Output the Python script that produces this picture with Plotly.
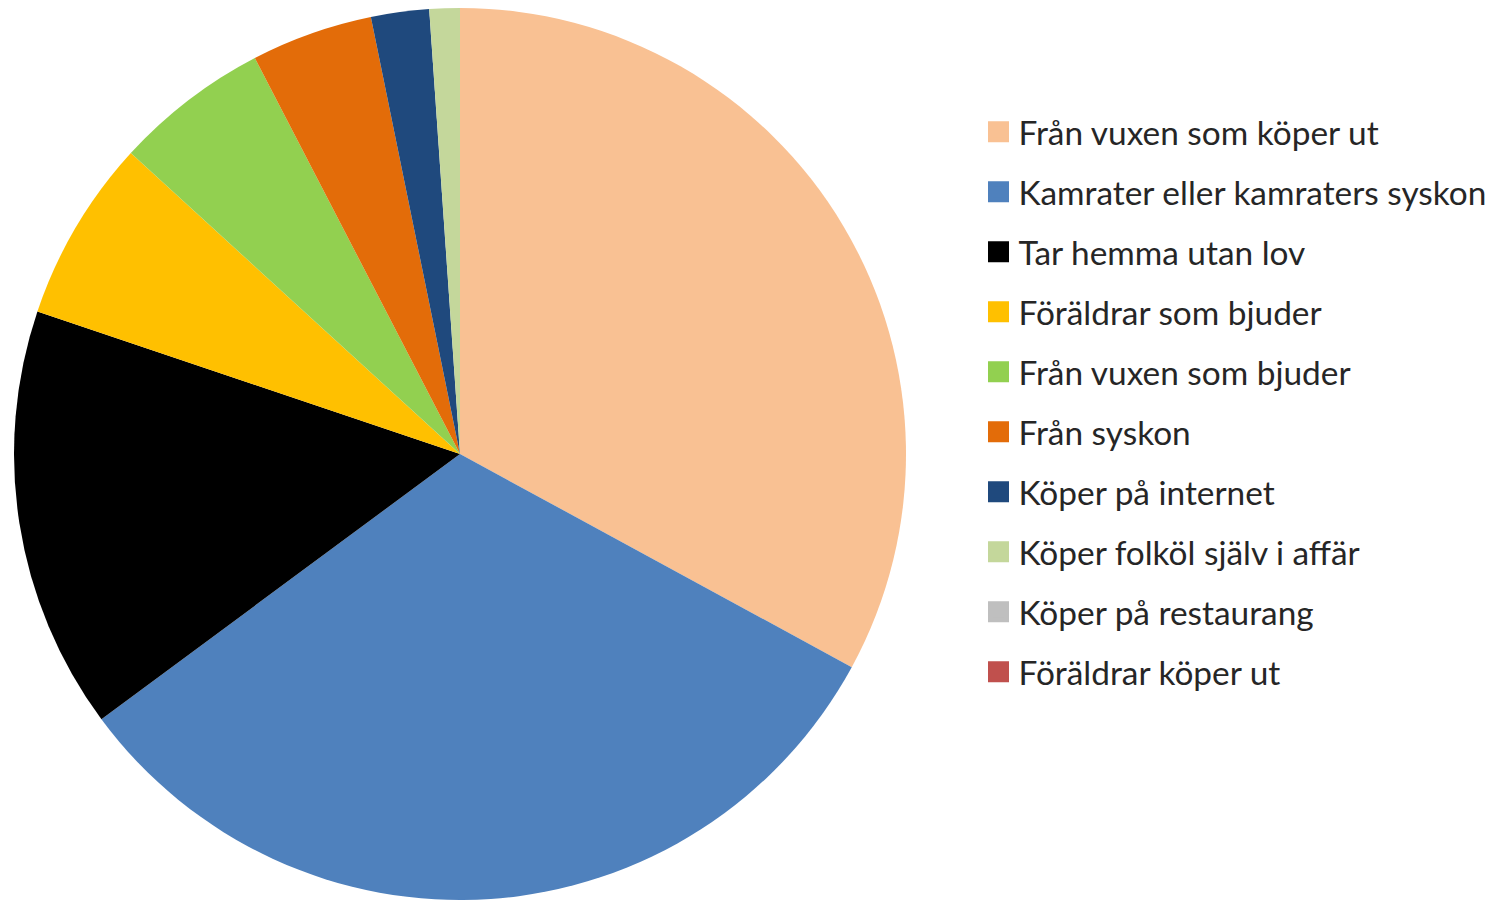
import plotly.graph_objects as go

categories = [
    "Från vuxen som köper ut",
    "Kamrater eller kamraters syskon",
    "Tar hemma utan lov",
    "Föräldrar som bjuder",
    "Från vuxen som bjuder",
    "Från syskon",
    "Köper på internet",
    "Köper folköl själv i affär",
    "Köper på restaurang",
    "Föräldrar köper ut",
]
values = [32.9, 31.9, 15.3, 6.6, 5.6, 4.4, 2.1, 1.1, 0.0, 0.0]
colors = ["#F9C193", "#4F81BD", "#000000", "#FFC000", "#92D050",
          "#E36C09", "#1F497D", "#C4D79B", "#BFBFBF", "#C0504D"]

W, H = 1497, 903

fig = go.Figure()
fig.add_trace(go.Pie(
    labels=categories,
    values=values,
    sort=False,
    direction="clockwise",
    rotation=0,
    textinfo="none",
    hoverinfo="label+percent",
    marker=dict(colors=colors, line=dict(width=0)),
    showlegend=False,
    domain=dict(x=[6 / W, 898 / W], y=[(H - 892) / H, 1.0]),
))

# legend entries (one per category, same colours as the slices)
for name, col in zip(categories, colors):
    fig.add_trace(go.Scatter(
        x=[None], y=[None], mode="markers", name=name,
        legendgroup=name,
        marker=dict(symbol="square", size=16, color=col,
                    line=dict(width=5, color=col)),
        hoverinfo="skip",
    ))

fig.update_layout(
    width=W, height=H,
    margin=dict(l=0, r=0, t=0, b=0),
    paper_bgcolor="white",
    plot_bgcolor="white",
    xaxis=dict(visible=False),
    yaxis=dict(visible=False),
    legend=dict(
        x=0.6483, y=0.8943, xanchor="left", yanchor="top",
        font=dict(family="Lato", size=33.4, color="#262626"),
        tracegroupgap=13.6,
        itemsizing="trace",
        bgcolor="rgba(0,0,0,0)",
    ),
)

fig.write_html("out.html")
